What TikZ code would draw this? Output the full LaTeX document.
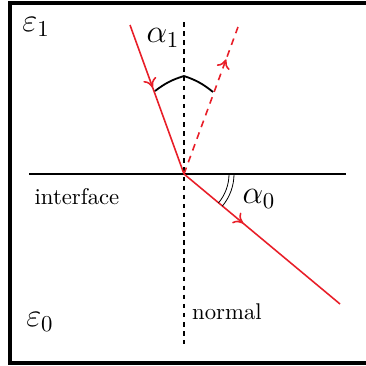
\documentclass[tikz,border=0pt]{standalone}
\usetikzlibrary{decorations.markings,arrows.meta}
\definecolor{rayred}{RGB}{232,30,40}
\begin{document}
\begin{tikzpicture}[x=0.44pt,y=-0.44pt,
  ray/.style={rayred,line width=0.7pt},
  midarrow/.style={decoration={markings,mark=at position #1 with {\arrow{To[length=4pt,width=6pt]}}},postaction={decorate}},
  dashray/.style={ray,dash pattern=on 3pt off 2.5pt},
  normalline/.style={black,line width=0.9pt,dash pattern=on 2pt off 2pt},
  lbl/.style={inner sep=0pt}]
\useasboundingbox (0,0) rectangle (366,366);
\draw[line width=1.8pt] (10,3) rectangle (372,363);
% coordinates
\coordinate (O) at (184,174);
\coordinate (ifL) at (29,174);
\coordinate (ifR) at (346,174);
\coordinate (nT) at (184,22);
\coordinate (nB) at (184,344);
\coordinate (inc) at (130,25);
\coordinate (refl) at (238,27);
\coordinate (refr) at (340,304);
\coordinate (aL) at (155,91);
\coordinate (aT) at (184,76);
\coordinate (aR) at (213,92);
% interface and normal
\draw[line width=0.9pt] (ifL) -- (ifR);
\draw[normalline] (nT) -- (nB);
% rays
\draw[ray,midarrow=0.42] (inc) -- (O);
\draw[dashray,midarrow=0.78] (O) -- (refl);
\draw[ray,midarrow=0.38] (O) -- (refr);
% angle alpha1 arc
\draw[line width=0.8pt] (aL) to[bend left=10] (aT);
\draw[line width=0.8pt] (aT) to[bend left=10] (aR);
% angle alpha0 double arc
\draw[line width=0.35pt] ([shift={(45,0)}]O) arc[start angle=0,end angle=40,radius=45];
\draw[line width=0.35pt] ([shift={(50,0)}]O) arc[start angle=0,end angle=40,radius=50];
% labels
\node[lbl] (a1) at (163,38) {\Large $\alpha_1$};
\node[lbl] (a0) at (259,199) {\Large $\alpha_0$};
\node[lbl] (e1) at (36,27) {\Large $\varepsilon_1$};
\node[lbl] (e0) at (40,322) {\Large $\varepsilon_0$};
\node[lbl] (intf) at (77,197) {interface};
\node[lbl] (norm) at (227,312) {normal};
\end{tikzpicture}
\end{document}
